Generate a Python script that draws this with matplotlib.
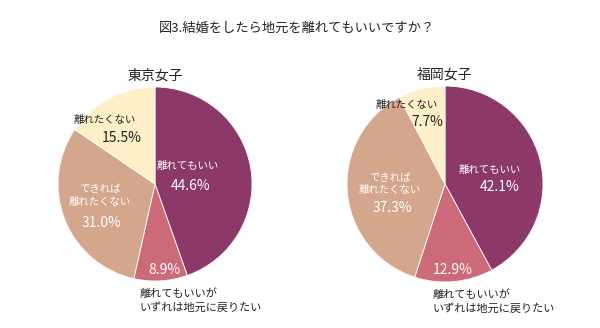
import matplotlib
matplotlib.use('Agg')
import matplotlib.pyplot as plt

plt.rcParams['font.family'] = ['Noto Sans CJK JP', 'DejaVu Sans']

title = '図3.結婚をしたら地元を離れてもいいですか？'
groups = ['東京女子', '福岡女子']
categories = ['離れてもいい', '離れてもいいが\nいずれは地元に戻りたい', 'できれば\n離れたくない', '離れたくない']
tokyo = [44.6, 8.9, 31.0, 15.5]
fukuoka = [42.1, 12.9, 37.3, 7.7]
colors = ['#8c3868', '#cd6a79', '#d4a68b', '#feefc9']

# label positions (pie units): category text, percent text
tokyo_pos = [((0.34, 0.19), (0.37, -0.02)),
             (None, (0.10, -0.89)),
             ((-0.57, -0.12), (-0.55, -0.40)),
             ((-0.52, 0.66), (-0.34, 0.47))]
fukuoka_pos = [((0.46, 0.14), (0.56, -0.03)),
               (None, (0.08, -0.88)),
               ((-0.56, 0.0), (-0.54, -0.24)),
               ((-0.39, 0.81), (-0.18, 0.63))]
outer_pos = [(-0.16, -1.20), (-0.13, -1.20)]

fig = plt.figure(figsize=(6, 3.28), dpi=100)
fig.text(297 / 600, 1 - 28 / 328, title, ha='center', va='center', fontsize=9.5, color='#222222')

centers = [(155, 184, 97), (445, 184, 98)]
for gi, (vals, pos) in enumerate([(tokyo, tokyo_pos), (fukuoka, fukuoka_pos)]):
    cx, cy, r = centers[gi]
    ax = fig.add_axes([(cx - r) / 600, (328 - cy - r) / 328, 2 * r / 600, 2 * r / 328])
    ax.pie(vals, colors=colors, startangle=90, counterclock=False,
           wedgeprops=dict(edgecolor='white', linewidth=0.6))
    ax.set_xlim(-1, 1)
    ax.set_ylim(-1, 1)
    ax.set_aspect('equal')
    ax.axis('off')
    ax.text(0, 1.12, groups[gi], ha='center', va='center', fontsize=10, color='#222222')
    for i, v in enumerate(vals):
        tc = '#222222' if i == 3 else 'white'
        lp, pp = pos[i]
        if lp is not None:
            ax.text(lp[0], lp[1], categories[i], ha='center', va='center', fontsize=7.5,
                    color=tc, linespacing=1.35, clip_on=False)
        ax.text(pp[0], pp[1], f'{v:.1f}%', ha='center', va='center', fontsize=10,
                color=tc, clip_on=False)
    ox, oy = outer_pos[gi]
    ax.text(ox, oy, categories[1], ha='left', va='center', fontsize=8,
            color='#222222', linespacing=1.35, clip_on=False)

fig.savefig('out.png', dpi=100)
